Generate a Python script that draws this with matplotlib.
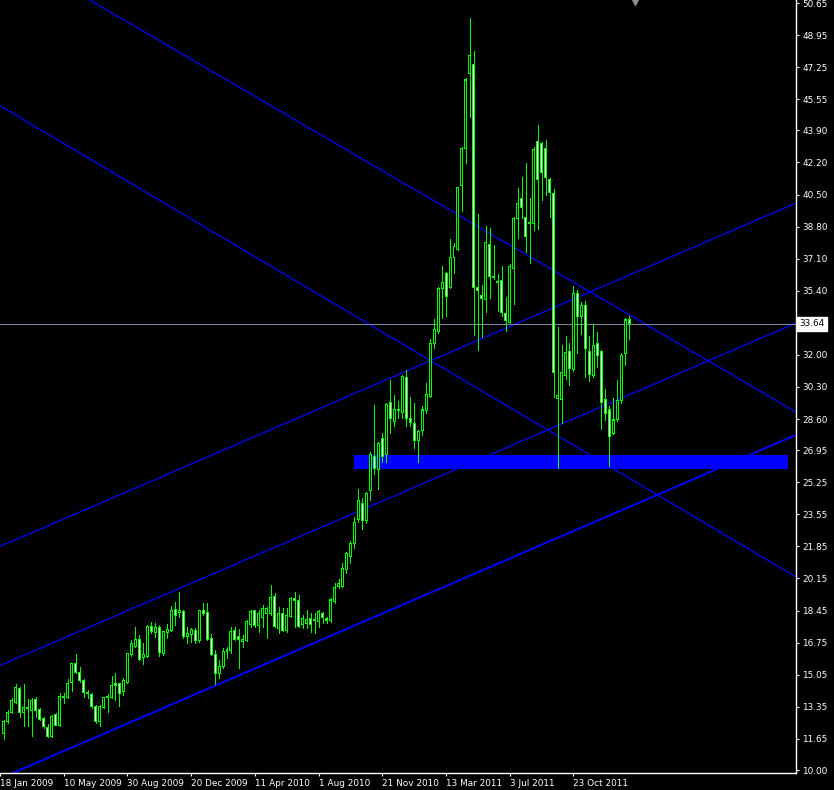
import numpy as np
import pandas as pd
import matplotlib
matplotlib.use("Agg")
import matplotlib.pyplot as plt
import matplotlib.transforms as mtransforms
from matplotlib.patches import Rectangle

# weekly silver bars, week of 25 Jan 2009 .. 29 Jan 2012
opens = [11.94, 12.56, 13.06, 13.57, 14.33, 13.06, 13.32, 13.14, 13.76, 13.22,
         12.74, 12.26, 11.77, 12.92, 12.38, 13.92, 13.85, 14.65, 15.65, 15.18,
         14.77, 14.10, 13.98, 13.36, 12.56, 13.32, 13.83, 13.85, 14.58, 14.59,
         14.15, 14.63, 16.10, 16.57, 16.89, 15.97, 16.04, 17.63, 17.30, 17.56,
         16.15, 17.31, 17.42, 18.51, 18.34, 18.39, 17.07, 17.16, 17.42, 16.85,
         18.48, 18.36, 16.98, 16.13, 15.12, 15.51, 16.41, 16.36, 17.37, 17.07,
         16.80, 16.86, 17.69, 18.43, 17.65, 18.09, 18.30, 18.30, 19.22, 17.51,
         18.30, 17.38, 18.13, 19.10, 19.01, 17.69, 17.74, 18.04, 17.99, 17.86,
         18.30, 18.04, 17.95, 18.92, 19.75, 19.75, 20.64, 21.34, 21.98, 23.30,
         24.13, 23.21, 24.80, 26.64, 25.94, 27.58, 26.70, 29.47, 28.46, 29.05,
         28.94, 30.81, 28.64, 28.37, 27.45, 27.98, 29.04, 29.79, 32.61, 33.23,
         35.53, 36.29, 35.58, 37.17, 37.60, 40.99, 42.95, 46.89, 47.40, 35.58,
         35.17, 34.95, 37.86, 36.15, 35.90, 35.93, 34.20, 33.71, 36.59, 39.24,
         40.30, 39.29, 38.99, 38.97, 43.30, 43.21, 42.95, 41.31, 40.56, 29.70,
         29.65, 30.91, 32.17, 31.24, 35.26, 34.03, 34.63, 32.19, 30.90, 32.61,
         32.19, 29.65, 29.08, 27.84, 28.58, 29.56, 32.08, 33.90]
highs = [12.65, 13.18, 13.80, 14.54, 14.42, 14.54, 13.75, 13.80, 13.85, 13.27,
         12.79, 12.44, 12.90, 13.04, 14.06, 14.10, 14.81, 15.69, 16.15, 15.44,
         14.81, 14.24, 14.10, 13.44, 13.43, 13.89, 14.01, 14.98, 15.12, 14.63,
         14.86, 16.20, 16.89, 17.60, 17.15, 16.71, 17.69, 17.86, 17.81, 17.69,
         17.38, 17.74, 18.69, 18.92, 19.43, 18.48, 17.60, 17.51, 17.51, 18.48,
         18.83, 18.83, 17.21, 16.36, 15.83, 16.45, 16.50, 17.60, 17.60, 17.46,
         17.16, 17.95, 18.48, 18.48, 18.48, 18.74, 18.66, 19.81, 19.36, 18.66,
         18.57, 18.57, 19.19, 19.43, 19.27, 18.21, 18.48, 18.30, 18.30, 18.48,
         18.39, 18.13, 19.10, 19.89, 20.11, 20.95, 21.57, 22.15, 23.43, 24.88,
         24.40, 24.75, 26.87, 29.35, 27.40, 27.84, 29.43, 30.67, 29.88, 29.57,
         30.93, 31.20, 29.79, 29.43, 28.02, 29.29, 30.53, 32.83, 33.90, 35.60,
         36.71, 36.41, 38.12, 37.91, 40.92, 43.04, 46.66, 49.84, 48.11, 39.47,
         35.70, 38.83, 38.71, 37.82, 36.29, 36.71, 35.09, 36.80, 39.33, 40.83,
         41.41, 42.15, 40.30, 43.04, 44.19, 43.30, 43.39, 41.36, 40.78, 33.46,
         32.52, 33.00, 32.61, 35.65, 35.44, 34.82, 34.86, 33.00, 33.62, 33.23,
         32.26, 30.18, 29.29, 29.70, 30.67, 32.12, 33.94, 34.06]
lows = [11.63, 12.47, 13.00, 13.53, 12.79, 12.35, 12.35, 11.82, 12.83, 12.65,
        12.21, 11.73, 11.73, 12.37, 12.35, 13.53, 13.80, 14.19, 15.12, 14.68,
        13.85, 13.80, 13.27, 12.51, 12.35, 13.27, 13.09, 13.80, 13.71, 13.41,
        13.98, 14.59, 16.04, 16.54, 15.83, 15.62, 16.01, 17.28, 17.07, 16.04,
        16.10, 16.98, 17.38, 17.69, 18.13, 16.98, 16.71, 16.80, 16.71, 16.80,
        18.21, 16.89, 16.10, 14.56, 14.86, 15.39, 15.92, 16.18, 16.89, 15.39,
        16.50, 16.84, 17.60, 17.60, 17.33, 17.60, 16.98, 18.21, 17.56, 17.28,
        17.38, 17.33, 18.09, 17.60, 17.56, 17.51, 17.51, 17.33, 17.28, 17.60,
        17.77, 17.77, 17.86, 18.83, 19.63, 19.68, 20.42, 20.95, 21.75, 23.16,
        22.75, 23.11, 24.31, 25.69, 24.88, 26.34, 26.34, 27.88, 28.23, 28.64,
        28.64, 28.23, 28.23, 27.05, 26.34, 27.75, 28.94, 29.75, 32.35, 33.18,
        33.94, 34.06, 35.53, 36.36, 37.56, 39.64, 42.15, 44.59, 33.05, 32.26,
        32.93, 34.29, 35.03, 36.01, 34.34, 34.06, 33.28, 33.67, 34.70, 38.18,
        39.24, 37.47, 36.89, 38.62, 38.66, 40.21, 40.48, 39.29, 29.75, 25.99,
        28.37, 30.72, 30.40, 31.16, 32.08, 33.11, 30.85, 30.63, 30.85, 31.38,
        28.06, 28.55, 26.11, 27.81, 28.51, 29.43, 31.46, 32.83]
closes = [12.56, 13.06, 13.66, 14.38, 13.04, 13.32, 13.25, 13.68, 13.18, 12.69,
          12.28, 11.77, 12.83, 12.38, 13.92, 13.85, 14.59, 15.65, 15.18, 14.73,
          14.12, 14.03, 13.36, 12.56, 13.36, 13.83, 13.87, 14.49, 14.49, 14.06,
          14.73, 16.15, 16.68, 16.93, 15.88, 16.10, 17.63, 17.33, 17.56, 16.22,
          17.33, 17.46, 18.48, 18.21, 18.48, 17.07, 17.21, 17.47, 16.89, 18.45,
          18.30, 16.94, 16.13, 15.12, 15.51, 16.27, 16.27, 17.33, 16.94, 16.93,
          16.93, 17.86, 18.39, 17.65, 18.30, 18.57, 18.57, 19.15, 17.60, 18.30,
          17.42, 18.21, 19.10, 19.01, 17.60, 18.04, 17.99, 17.69, 17.92, 18.39,
          18.09, 17.92, 19.01, 19.68, 19.86, 20.69, 21.45, 22.01, 23.13, 24.26,
          23.21, 24.66, 26.70, 25.99, 27.28, 26.61, 29.35, 28.64, 29.12, 29.09,
          30.88, 28.64, 28.41, 27.49, 27.93, 29.08, 29.88, 32.61, 33.36, 35.53,
          35.83, 35.09, 37.17, 37.74, 40.88, 42.95, 46.57, 47.89, 35.58, 35.39,
          35.00, 37.97, 36.15, 36.10, 35.85, 34.24, 33.81, 36.68, 39.24, 40.03,
          39.82, 38.27, 38.97, 42.86, 41.31, 41.68, 41.41, 40.60, 31.06, 29.87,
          31.06, 32.14, 31.29, 35.26, 34.03, 34.63, 32.33, 30.97, 32.51, 31.99,
          29.47, 28.90, 27.67, 28.55, 29.56, 31.99, 33.85, 33.64]

first_week = "2009-01-25"
date_ticks = ["2009-01-18", "2009-05-10", "2009-08-30", "2009-12-20", "2010-04-11",
              "2010-08-01", "2010-11-21", "2011-03-13", "2011-07-03", "2011-10-23"]
date_labels = ["18 Jan 2009", "10 May 2009", "30 Aug 2009", "20 Dec 2009", "11 Apr 2010",
               "1 Aug 2010", "21 Nov 2010", "13 Mar 2011", "3 Jul 2011", "23 Oct 2011"]
price_ticks = [10.00, 11.65, 13.35, 15.05, 16.75, 18.45, 20.15, 21.85, 23.55, 25.25,
               26.95, 28.60, 30.30, 32.00, 35.40, 37.10, 38.80, 40.50, 42.20, 43.90,
               45.55, 47.25, 48.95, 50.65]
last_price = 33.64

# hand drawn objects: trend lines as (bar, price) anchor pairs, support zone
trend_lines = [((99.9, 41.16), (198.9, 28.97)),
               ((-0.1, 45.09), (198.9, 20.23)),
               ((-0.1, 21.93), (198.9, 40.05)),
               ((-0.1, 15.62), (198.9, 33.69)),
               ((-0.1, 9.63), (198.9, 27.76))]
zone_bars = (87.9, 196.8)
zone_prices = (25.95, 26.70)

o = np.array(opens)
h = np.array(highs)
l = np.array(lows)
c = np.array(closes)
x = np.arange(len(c))
start = pd.Timestamp(first_week)
tick_pos = [(pd.Timestamp(d) - start).days / 7 for d in date_ticks]

px = 0.72  # one pixel in points at dpi 100
ymin, ymax = 9.841, 50.81
per_px = (ymax - ymin) / 773  # price per pixel

green = "#00ff00"
fig = plt.figure(figsize=(8.34, 7.90), dpi=100, facecolor="black")
ax = fig.add_axes([0, 17 / 790, 796 / 834, 773 / 790], facecolor="black")

ax.add_patch(Rectangle((zone_bars[0], zone_prices[0]), zone_bars[1] - zone_bars[0],
                       zone_prices[1] - zone_prices[0], color="#0000ff", lw=0,
                       antialiased=False, zorder=1))
for i, (p1, p2) in enumerate(trend_lines):
    ax.axline(p1, p2, color="#0000ff", lw=1.4 if i == 4 else 0.9, zorder=2)
ax.axhline(last_price, color="#7d8aa0", lw=px, antialiased=False, zorder=2)

# wick, outer green body, then 1px core (black = up week, white = down week)
ax.vlines(x, l, h, color=green, lw=px, antialiased=False, zorder=3)
up = c >= o
body_low = np.minimum(o, c)
body_h = np.maximum(np.abs(c - o), per_px)
ax.bar(x, body_h + per_px, bottom=body_low - per_px / 2, width=0.75, color=green,
       lw=0, antialiased=False, zorder=4)
core_h = body_h - per_px
inner = core_h > 0
ax.bar(x[inner & up], core_h[inner & up], bottom=body_low[inner & up] + per_px / 2,
       width=0.25, color="black", lw=0, antialiased=False, zorder=5)
ax.bar(x[inner & ~up], core_h[inner & ~up], bottom=body_low[inner & ~up] + per_px / 2,
       width=0.25, color="white", lw=0, antialiased=False, zorder=5)

ax.set_xlim(-0.125, 198.875)
ax.set_ylim(ymin, ymax)

ax.yaxis.tick_right()
ax.set_yticks(price_ticks)
ax.set_yticklabels([f"{v:.2f}" for v in price_ticks])
ax.set_xticks(tick_pos)
ax.set_xticklabels(date_labels)
shift = mtransforms.ScaledTranslation(-2 / 100, 0, fig.dpi_scale_trans)
for lbl in ax.get_xticklabels():
    lbl.set_horizontalalignment("left")
    lbl.set_transform(lbl.get_transform() + shift)
ax.tick_params(colors="white", labelsize=6.4, length=2.5, width=0.8, pad=2)
for side in ["top", "left"]:
    ax.spines[side].set_visible(False)
for side in ["right", "bottom"]:
    ax.spines[side].set_color("white")
    ax.spines[side].set_linewidth(1)

ax.text(1.004, last_price, f"{last_price:.2f}", transform=ax.get_yaxis_transform(),
        color="black", fontsize=6.4, va="center", ha="left", clip_on=False,
        bbox=dict(boxstyle="square,pad=0.3", fc="white", ec="white"))
ax.plot([158.4], [50.7], marker="v", color="#8a8f99", ms=4, clip_on=False, zorder=6)

fig.savefig("out.png", dpi=100, facecolor="black")
